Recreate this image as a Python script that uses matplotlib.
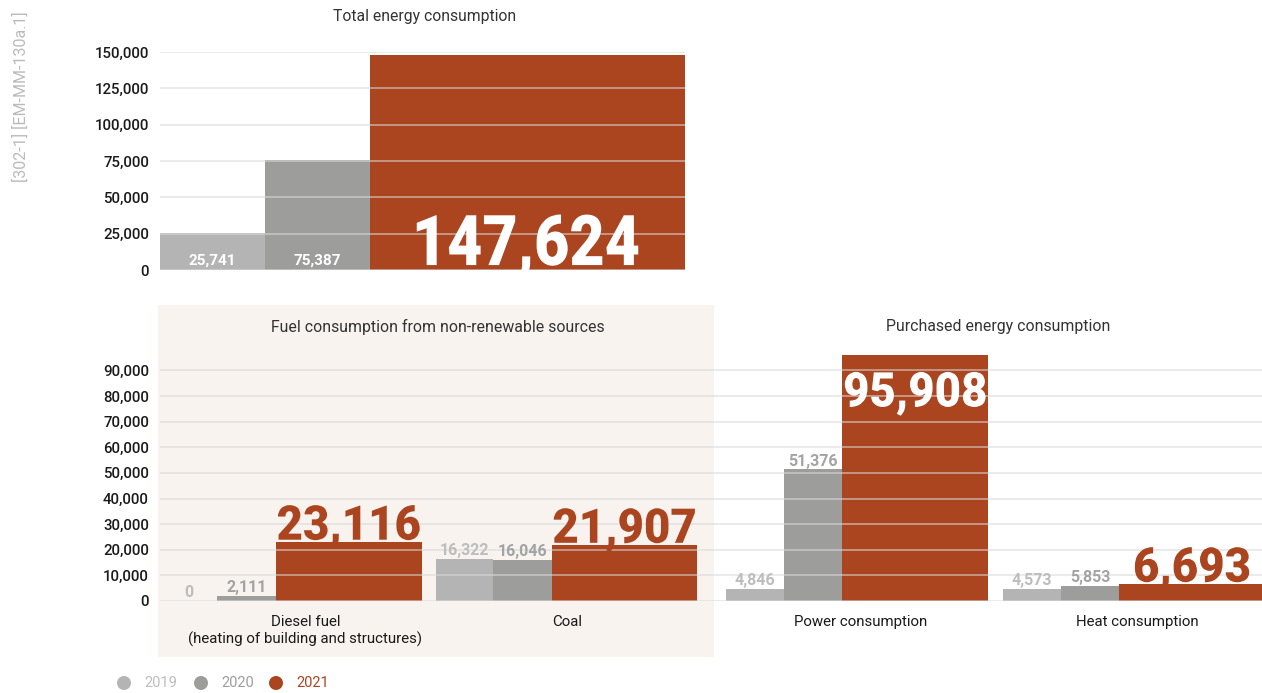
import matplotlib
matplotlib.use("Agg")
import matplotlib.pyplot as plt
import matplotlib.transforms as mtransforms
from matplotlib.patches import Rectangle, Ellipse, PathPatch
from matplotlib.textpath import TextPath
from matplotlib.font_manager import FontProperties
from matplotlib.ticker import FuncFormatter

years = ["2019", "2020", "2021"]
total = [25741, 75387, 147624]

categories = ["Diesel fuel\n(heating of building and structures)", "Coal",
              "Power consumption", "Heat consumption"]
v2019 = [0, 16322, 4846, 4573]
v2020 = [2111, 16046, 51376, 5853]
v2021 = [23116, 21907, 95908, 6693]

c19, c20, c21 = "#b4b4b4", "#9d9d9c", "#ab4520"
lab19, lab20 = "#bdbdbd", "#a3a3a3"
grid_kw = dict(color="#d9d9d9", alpha=0.55, linewidth=1.4, zorder=3)

plt.rcParams["font.family"] = ["Roboto", "DejaVu Sans"]
big_prop = FontProperties(family="Roboto", weight=900)

fig = plt.figure(figsize=(12.62, 6.93), dpi=100)
W, H = 1262, 693


def fig_box(x0, y0, x1, y1):
    # pixel box (top-left origin) -> figure fraction rect
    return [x0 / W, 1 - y1 / H, (x1 - x0) / W, (y1 - y0) / H]


def big_number(ax, x, y, s, px, color, sx, va="baseline"):
    # condensed headline number: glyph outlines squeezed horizontally
    tp = TextPath((0, 0), s, size=px, prop=big_prop)
    bb = tp.get_extents()
    dy = -bb.y1 if va == "top" else 0
    tr = (mtransforms.Affine2D().translate(-(bb.x0 + bb.width / 2), dy).scale(sx, 1)
          + mtransforms.ScaledTranslation(x, y, ax.transData))
    fig.add_artist(PathPatch(tp, transform=tr, facecolor=color, edgecolor="none",
                             zorder=5))


thousands = FuncFormatter(lambda v, p: f"{int(v):,}")

# beige panel behind the fuel chart
fig.add_artist(Rectangle((158 / W, 1 - 657 / H), (714 - 158) / W, (657 - 305) / H,
                         transform=fig.transFigure, facecolor="#f8f3ef",
                         edgecolor="none", zorder=-1))

# ---- total energy consumption ----
ax1 = fig.add_axes(fig_box(160, 52, 685, 270))
ax1.patch.set_alpha(0)
widths = [1, 1, 3]
lefts = [0, 1, 2]
ax1.bar(lefts, total, width=widths, align="edge", color=[c19, c20, c21], zorder=2)
ax1.set_xlim(0, 5)
ax1.set_ylim(0, 150000)
ax1.set_yticks(range(0, 150001, 25000))
ax1.yaxis.set_major_formatter(thousands)
for yv in range(0, 150001, 25000):
    ax1.axhline(yv, **grid_kw)
for i in range(2):
    ax1.text(lefts[i] + widths[i] / 2, 3500, f"{total[i]:,}", ha="center", va="baseline",
             color="white", fontsize=11, fontweight="bold", zorder=4)
big_number(ax1, lefts[2] + widths[2] / 2, 3400, f"{total[2]:,}", 70, "white", 0.87)
ax1.set_xticks([])
fig.text(425 / W, 1 - 17 / H, "Total energy consumption", ha="center", va="center",
         fontsize=11.3, color="#333333")

# ---- fuel and purchased energy ----
ax2 = fig.add_axes(fig_box(160, 355, 1262, 601))
ax2.patch.set_alpha(0)
w19, w20, w21 = 0.205, 0.21, 0.52
gx = [0, 0.985, 2.025, 3.015]   # group starts; extra gap between the two panels
ax2.bar(gx, v2019, width=w19, align="edge", color=c19, zorder=2)
ax2.bar([g + w19 for g in gx], v2020, width=w20, align="edge", color=c20, zorder=2)
ax2.bar([g + w19 + w20 for g in gx], v2021, width=w21, align="edge", color=c21, zorder=2)
ax2.set_xlim(0, 3.94)
ax2.set_ylim(0, 96000)
ax2.set_yticks(range(0, 90001, 10000))
ax2.yaxis.set_major_formatter(thousands)
for yv in range(0, 90001, 10000):
    ax2.axhline(yv, **grid_kw)

for i, g in enumerate(gx):
    ax2.text(g + w19 / 2, v2019[i] + 1500, f"{v2019[i]:,}", ha="center", va="baseline",
             color=lab19, fontsize=11.5, fontweight="semibold", zorder=4)
    ax2.text(g + w19 + w20 / 2, v2020[i] + 1500, f"{v2020[i]:,}", ha="center",
             va="baseline", color=lab20, fontsize=11.5, fontweight="bold", zorder=4)
    xc = g + w19 + w20 + w21 / 2
    if v2021[i] > 80000:
        big_number(ax2, xc, v2021[i] - 6500, f"{v2021[i]:,}", 48, "white", 0.95, va="top")
    else:
        big_number(ax2, xc, v2021[i] + 800, f"{v2021[i]:,}", 48, c21, 0.95)

label_off = [0.52, 0.47, 0.48, 0.48]
ax2.set_xticks([g + o for g, o in zip(gx, label_off)])
ax2.set_xticklabels(categories, fontsize=11.7, color="#333333", linespacing=1.25)

for ax in (ax1, ax2):
    for s in ax.spines.values():
        s.set_visible(False)
    ax.tick_params(length=0, labelsize=10.8, labelcolor="#1a1a1a")
    ax.tick_params(axis="y", pad=8)
    for lbl in ax.get_yticklabels():
        lbl.set_fontweight("medium")
ax2.tick_params(axis="x", pad=10)

fig.text(438 / W, 1 - 327 / H, "Fuel consumption from non-renewable sources",
         ha="center", va="center", fontsize=11.4, color="#333333")
fig.text(998 / W, 1 - 327 / H, "Purchased energy consumption",
         ha="center", va="center", fontsize=11.4, color="#333333")

fig.text(21 / W, 1 - 97 / H, "[302-1] [EM-MM-130a.1]", rotation=90, ha="center",
         va="center", fontsize=11.5, color="#bbbbbb")

# legend
leg_x = [124, 201, 276]
leg_c = [c19, c20, c21]
leg_t = [lab19, "#9d9d9c", c21]
for x, y_, c, tc in zip(leg_x, years, leg_c, leg_t):
    fig.add_artist(Ellipse((x / W, 1 - 683 / H), 14 / W, 14 / H, transform=fig.transFigure,
                           facecolor=c, edgecolor="none"))
    fig.text((x + 20) / W, 1 - 683 / H, y_, ha="left", va="center", fontsize=10.5, color=tc)

fig.savefig("out.png", dpi=100)
